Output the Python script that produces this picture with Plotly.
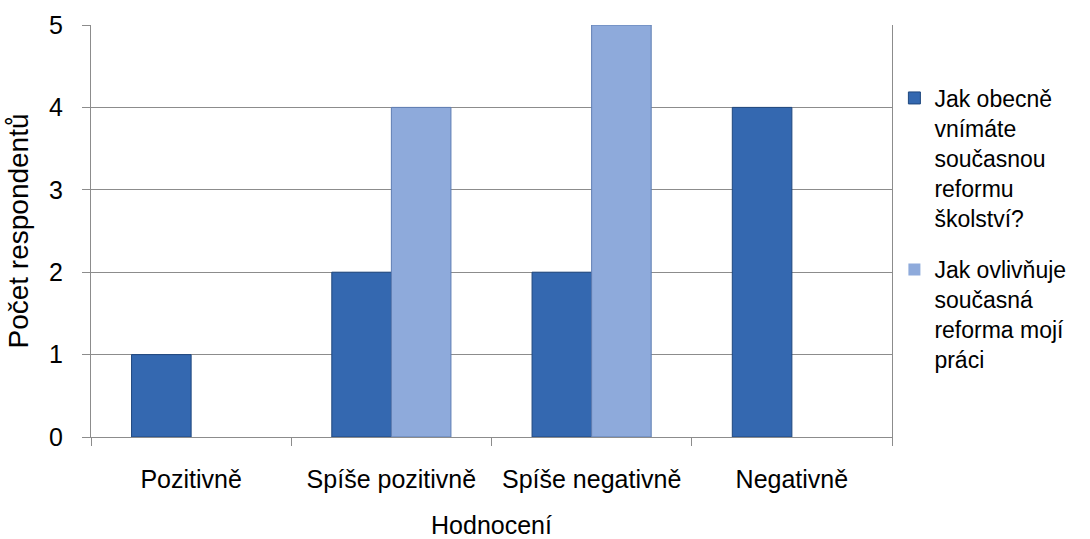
import plotly.graph_objects as go

categories = ["Pozitivně", "Spíše pozitivně", "Spíše negativně", "Negativně"]
series_names = [
    "Jak obecně<br>vnímáte<br>současnou<br>reformu<br>školství?",
    "Jak ovlivňuje<br>současná<br>reforma mojí<br>práci",
]
reform_view = [1, 2, 2, 4]
work_impact = [0, 4, 5, 0]

font_family = "Liberation Sans, Arial, sans-serif"
grid_color = "#8c8c8c"


def outline_widths(values):
    # zero counts get no visible outline sliver
    return [0 if v == 0 else 1 for v in values]


fig = go.Figure()
fig.add_trace(go.Bar(
    x=categories, y=reform_view, name=series_names[0], legendgroup="a",
    marker=dict(color="#3468b0",
                line=dict(color="#1f477e", width=outline_widths(reform_view))),
))
fig.add_trace(go.Bar(
    x=categories, y=work_impact, name=series_names[1], legendgroup="b",
    marker=dict(color="#8eaadb",
                line=dict(color="#5f7eb3", width=outline_widths(work_impact))),
))

fig.update_layout(
    width=1090, height=539,
    margin=dict(l=91, r=198, t=25, b=102, autoexpand=False),
    paper_bgcolor="white", plot_bgcolor="white",
    barmode="group", bargap=0.405, bargroupgap=0,
    font=dict(family=font_family, size=25, color="#000000"),
    showlegend=True,
    legend=dict(
        x=1.003, y=0.875, xanchor="left", yanchor="top",
        font=dict(size=23), traceorder="grouped", tracegroupgap=19,
        valign="top", itemwidth=30, bgcolor="rgba(0,0,0,0)",
    ),
    xaxis=dict(
        title=dict(text="Hodnocení", standoff=28, font=dict(size=25)),
        automargin=False,
        showline=True, linecolor=grid_color, linewidth=1,
        ticks="outside", tickson="boundaries", ticklen=8, tickcolor=grid_color,
        tickfont=dict(size=25), ticklabelstandoff=20, showgrid=False,
    ),
    yaxis=dict(
        title=dict(text="Počet respondentů", standoff=12, font=dict(size=28)),
        automargin=False,
        range=[0, 5], dtick=1,
        showline=True, linecolor=grid_color, linewidth=1, mirror=True,
        ticks="outside", ticklen=8, tickcolor=grid_color,
        ticklabelstandoff=14,
        showgrid=True, gridcolor=grid_color, gridwidth=1,
        tickfont=dict(size=25), zeroline=False,
    ),
)

fig.write_html("out.html")
